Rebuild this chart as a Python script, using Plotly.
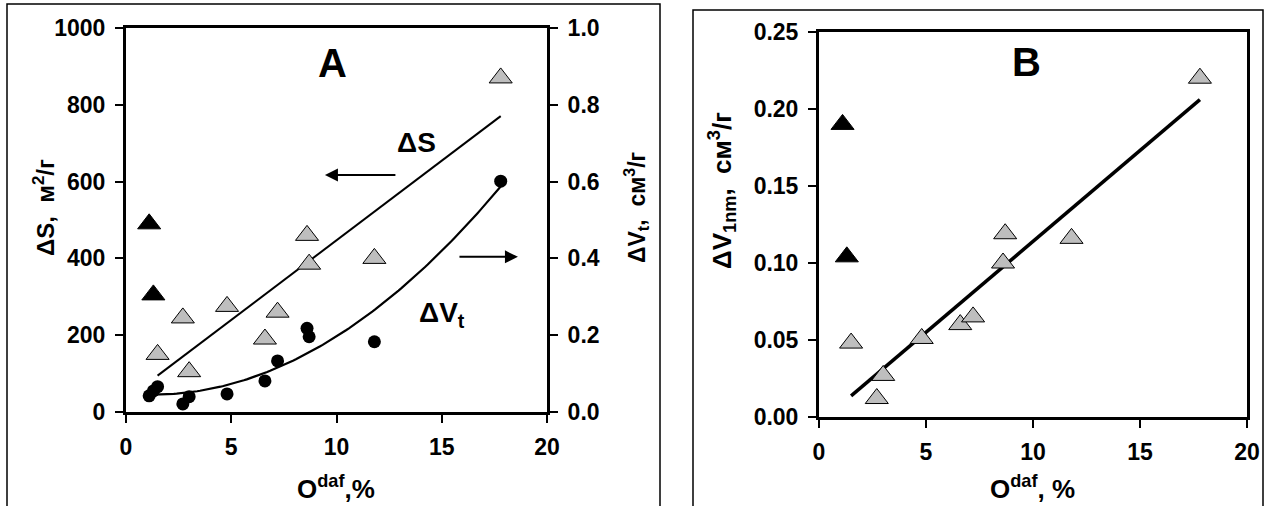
import numpy as np
import plotly.graph_objects as go

W, H = 1268, 506

# Oxygen content of the samples, O^daf, %
o_daf = [1.1, 1.3, 1.5, 2.7, 3.0, 4.8, 6.6, 7.2, 8.6, 8.7, 11.8, 17.8]
# the first two samples are shown as filled black triangles and kept out of the fits
n_black = 2

# surface area gain, m2/g (left axis of panel A)
delta_s = [490, 305, 150, 245, 105, 275, 190, 260, 460, 385, 400, 870]
# total pore volume gain, cm3/g (right axis of panel A)
delta_vt = [0.042, 0.055, 0.066, 0.021, 0.040, 0.047, 0.081, 0.133, 0.218, 0.196, 0.183, 0.601]
# volume gain of pores below 1 nm, cm3/g (panel B)
delta_v1nm = [0.190, 0.104, 0.048, 0.012, 0.027, 0.051, 0.060, 0.065, 0.100, 0.119, 0.116, 0.220]

FONT = "Liberation Sans, Arial, sans-serif"
GRAY = "#bebebe"


def px(x):
    return x / W


def py(y):
    return 1 - y / H


# least-squares trends
x_gray = np.array(o_daf[n_black:])
s_fit = np.polyfit(x_gray, np.array(delta_s[n_black:]), 1)
v1_fit = np.polyfit(x_gray, np.array(delta_v1nm[n_black:]), 1)
vt_fit = np.polyfit(np.array(o_daf), np.array(delta_vt), 2)

x_lin = np.linspace(x_gray.min(), x_gray.max(), 60)
x_curve = np.linspace(o_daf[1], max(o_daf), 120)

fig = go.Figure()

# ---- panel A ----
fig.add_trace(go.Scatter(x=x_lin, y=np.polyval(s_fit, x_lin), mode="lines",
                         line=dict(color="black", width=2), xaxis="x", yaxis="y",
                         hoverinfo="skip"))
fig.add_trace(go.Scatter(x=x_curve, y=np.polyval(vt_fit, x_curve), mode="lines",
                         line=dict(color="black", width=2.2), xaxis="x", yaxis="y2",
                         hoverinfo="skip"))
fig.add_trace(go.Scatter(x=o_daf[n_black:], y=delta_s[n_black:], mode="markers",
                         marker=dict(symbol="triangle-up", size=20, color=GRAY,
                                     line=dict(color="black", width=1)),
                         xaxis="x", yaxis="y", cliponaxis=False))
fig.add_trace(go.Scatter(x=o_daf[:n_black], y=delta_s[:n_black], mode="markers",
                         marker=dict(symbol="triangle-up", size=20, color="black",
                                     line=dict(color="black", width=1)),
                         xaxis="x", yaxis="y", cliponaxis=False))
fig.add_trace(go.Scatter(x=o_daf, y=delta_vt, mode="markers",
                         marker=dict(symbol="circle", size=13, color="black"),
                         xaxis="x", yaxis="y2", cliponaxis=False))

# ---- panel B ----
fig.add_trace(go.Scatter(x=x_lin, y=np.polyval(v1_fit, x_lin), mode="lines",
                         line=dict(color="black", width=3.5), xaxis="x2", yaxis="y3",
                         hoverinfo="skip"))
fig.add_trace(go.Scatter(x=o_daf[n_black:], y=delta_v1nm[n_black:], mode="markers",
                         marker=dict(symbol="triangle-up", size=20, color=GRAY,
                                     line=dict(color="black", width=1)),
                         xaxis="x2", yaxis="y3", cliponaxis=False))
fig.add_trace(go.Scatter(x=o_daf[:n_black], y=delta_v1nm[:n_black], mode="markers",
                         marker=dict(symbol="triangle-up", size=20, color="black",
                                     line=dict(color="black", width=1)),
                         xaxis="x2", yaxis="y3", cliponaxis=False))

tickfont = dict(family=FONT, size=23, color="black", weight="bold")
axis_common = dict(showline=True, linecolor="black", linewidth=3, ticks="outside",
                   ticklen=8, tickwidth=2, tickcolor="black", showgrid=False,
                   zeroline=False, tickfont=tickfont, automargin=False)

fig.update_layout(
    template="none",
    width=W, height=H, autosize=False,
    margin=dict(l=0, r=0, t=0, b=0, pad=0),
    paper_bgcolor="white", plot_bgcolor="white",
    font=dict(family=FONT, color="black"),
    showlegend=False,
    xaxis=dict(axis_common, domain=[px(126), px(547)], range=[0, 20], dtick=5,
               mirror=True, anchor="y", ticklabelstandoff=4),
    yaxis=dict(axis_common, domain=[py(412), py(28)], range=[0, 1000], dtick=200,
               anchor="x", ticklabelstandoff=5),
    yaxis2=dict(axis_common, overlaying="y", side="right", range=[0, 1], dtick=0.2,
                tickformat=".1f", anchor="x", ticklabelstandoff=5),
    xaxis2=dict(axis_common, domain=[px(819), px(1247)], range=[0, 20], dtick=5,
                mirror=True, anchor="y3", ticklabelstandoff=4),
    yaxis3=dict(axis_common, domain=[py(417), py(32)], range=[0, 0.25], dtick=0.05,
                tickformat=".2f", mirror=True, anchor="x2", ticklabelstandoff=5),
)

# panel frames
fig.add_shape(type="rect", xref="paper", yref="paper", x0=px(7), x1=px(660),
              y0=-0.05, y1=py(4), line=dict(color="black", width=1.5))
fig.add_shape(type="rect", xref="paper", yref="paper", x0=px(693), x1=px(1263),
              y0=-0.05, y1=py(10), line=dict(color="black", width=1.5))


def label(text, x, y, size, angle=0, xref="paper", yref="paper"):
    fig.add_annotation(text=text, x=x, y=y, xref=xref, yref=yref, showarrow=False,
                       textangle=angle, xanchor="center", yanchor="middle",
                       font=dict(family=FONT, size=size, color="black", weight="bold"))


# axis titles
label("ΔS,  м<sup>2</sup>/г", px(44), py(208), 24, -90)
label("ΔV<sub>t</sub>,  см<sup>3</sup>/г", px(636), py(208), 23, -90)
label("O<sup>daf</sup>,%", px(336), py(487), 26)
label("ΔV<sub>1nm</sub>,  см<sup>3</sup>/г", px(722), py(191), 26, -90)
label("O<sup>daf</sup>, %", px(1032), py(487), 26)

# panel letters and curve labels
label("A", 9.8, 910, 40, xref="x", yref="y")
label("ΔS", 13.8, 703, 28, xref="x", yref="y")
label("ΔV<sub>t</sub>", 15.0, 255, 28, xref="x", yref="y")
label("B", 9.7, 0.2305, 40, xref="x2", yref="y3")

# arrows pointing to the axis each curve belongs to
fig.add_annotation(x=9.45, y=617, ax=12.87, ay=617, xref="x", yref="y", axref="x",
                   ayref="y", text="", showarrow=True, arrowhead=2, arrowsize=1.3,
                   arrowwidth=2, arrowcolor="black")
fig.add_annotation(x=18.62, y=404, ax=15.77, ay=404, xref="x", yref="y", axref="x",
                   ayref="y", text="", showarrow=True, arrowhead=2, arrowsize=1.3,
                   arrowwidth=2, arrowcolor="black")

fig.write_html("out.html")
